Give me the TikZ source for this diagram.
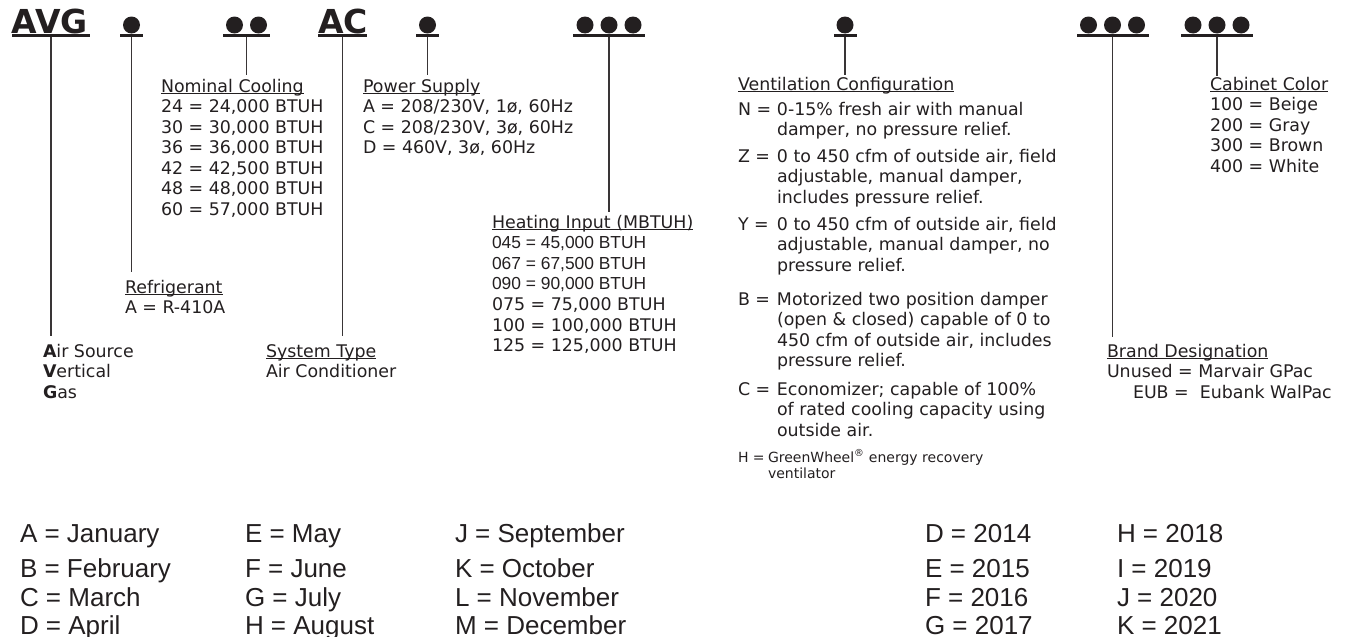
\documentclass[tikz,border=0pt]{standalone}
\usepackage{fontspec}
\setmainfont{DejaVu Sans}
\newfontfamily\arialfont{Liberation Sans}
\usepackage{tikz}
\definecolor{ink}{HTML}{231F20}
\newsavebox\hdbox
\newcommand{\hd}[1]{\sbox\hdbox{#1}\rlap{\rule[-1.7pt]{\wd\hdbox}{1.1pt}}\usebox\hdbox}
\newcommand{\keyrows}[1]{\begin{tabular}[t]{@{}l@{}}#1\end{tabular}}
\newcommand{\ventrows}[3]{\begin{tabular}[t]{@{}p{#1}@{}l@{}}#2&#3\end{tabular}}

\begin{document}
\begin{tikzpicture}[x=1pt,y=-1pt,
	every node/.style={inner sep=0pt,outer sep=0pt,text=ink},
	codebox/.style={anchor=base west,font=\fontsize{33}{33}\selectfont\bfseries},
	codebar/.style={fill=ink,minimum height=2.6pt,minimum width=#1},
	lead/.style={draw=ink!90,line width=1.1pt},
	keytext/.style={anchor=base west,font=\fontsize{17.4}{20.6}\selectfont},
	datetext/.style={anchor=base west,font=\arialfont\fontsize{26}{27.5}\selectfont}]
			\useasboundingbox (0,0) rectangle (1345,637);
			\node[codebox] (avg) at (12,33) {AVG};
			\node[codebar=78pt] (avg-bar) at (51,35.5) {};
			\node[codebar=23pt] (ref-bar) at (131.5,35.5) {};
			\fill[ink] (131.5,25) circle[radius=8.5pt];
			\node[codebar=47pt] (nom-bar) at (246.5,35.5) {};
			\foreach \x in {234.5,258.5} \fill[ink] (\x,25) circle[radius=8.5pt];
			\node[codebox] (ac) at (318,33) {AC};
			\node[codebar=49pt] (ac-bar) at (342.5,35.5) {};
			\node[codebar=23pt] (pwr-bar) at (427.5,35.5) {};
			\fill[ink] (427.5,25) circle[radius=8.5pt];
			\node[codebar=72pt] (heat-bar) at (609,35.5) {};
			\foreach \x in {585,609,633} \fill[ink] (\x,25) circle[radius=8.5pt];
			\node[codebar=23pt] (vent-bar) at (845,35.5) {};
			\fill[ink] (845,25) circle[radius=8.5pt];
			\node[codebar=72pt] (brand-bar) at (1112.5,35.5) {};
			\foreach \x in {1088.5,1112.5,1136.5} \fill[ink] (\x,25) circle[radius=8.5pt];
			\node[codebar=72pt] (cab-bar) at (1217,35.5) {};
			\foreach \x in {1193,1217,1241} \fill[ink] (\x,25) circle[radius=8.5pt];
			\node[keytext] (avg-key) at (43,357) {\keyrows{\textbf{A}ir Source\\\textbf{V}ertical\\\textbf{G}as}};
			\node[keytext] (ref-key) at (125,293) {\keyrows{\hd{Refrigerant}\\A = R-410A}};
			\node[keytext] (nom-key) at (161,92) {\keyrows{\hd{Nominal Cooling}\\24 = 24,000 BTUH\\30 = 30,000 BTUH\\36 = 36,000 BTUH\\42 = 42,500 BTUH\\48 = 48,000 BTUH\\60 = 57,000 BTUH}};
			\node[keytext] (ac-key) at (266,357) {\keyrows{\hd{System Type}\\Air Conditioner}};
			\node[keytext] (pwr-key) at (363,92) {\keyrows{\hd{Power Supply}\\A = 208/230V, 1ø, 60Hz\\C = 208/230V, 3ø, 60Hz\\D = 460V, 3ø, 60Hz}};
			\node[keytext] (heat-key) at (492,228) {\keyrows{\hd{Heating Input (MBTUH)}\\{\arialfont 045 = 45,000 BTUH}\\{\arialfont 067 = 67,500 BTUH}\\{\arialfont 090 = 90,000 BTUH}\\075 = 75,000 BTUH\\100 = 100,000 BTUH\\125 = 125,000 BTUH}};
			\node[keytext] (vent-key) at (738,90) {\hd{Ventilation Configuration}};
			\node[keytext] (vent-n) at (738,115) {\ventrows{39pt}{N =}{0-15\% fresh air with manual\\&damper, no pressure relief.}};
			\node[keytext] (vent-z) at (738,162) {\ventrows{39pt}{Z =}{0 to 450 cfm of outside air, field\\&adjustable, manual damper,\\&includes pressure relief.}};
			\node[keytext] (vent-y) at (738,230) {\ventrows{39pt}{Y =}{0 to 450 cfm of outside air, field\\&adjustable, manual damper, no\\&pressure relief.}};
			\node[keytext] (vent-b) at (738,305) {\ventrows{39pt}{B =}{Motorized two position damper\\&(open \& closed) capable of 0 to\\&450 cfm of outside air, includes\\&pressure relief.}};
			\node[keytext] (vent-c) at (738,395) {\ventrows{39pt}{C =}{Economizer; capable of 100\%\\&of rated cooling capacity using\\&outside air.}};
			\node[keytext,font=\fontsize{14}{16}\selectfont] (vent-h) at (738,462) {\ventrows{30pt}{H =}{GreenWheel\textsuperscript{®} energy recovery\\&ventilator}};
			\node[keytext] (brand-key) at (1107,357) {\keyrows{\hd{Brand Designation}\\Unused = Marvair GPac\\\hspace*{26pt}EUB = \ Eubank WalPac}};
			\node[keytext] (cab-key) at (1210,90) {\keyrows{\hd{Cabinet Color}\\100 = Beige\\200 = Gray\\300 = Brown\\400 = White}};
			\foreach \f/\s in {avg/7,ref/7,nom/3,ac/7,pwr/3,heat/2,vent/2,brand/6,cab/0}
				\draw[lead,shorten >=\s pt] (\f-bar.south) -- (\f-bar.south |- \f-key.north);
			\node[datetext] (month-a) at (20,542.5) {\keyrows{A = January\\[7pt]B = February\\[2pt]C = March\\D = April}};
			\node[datetext] (month-e) at (245,542.5) {\keyrows{E = May\\[7pt]F = June\\[2pt]G = July\\H = August}};
			\node[datetext] (month-j) at (455,542.5) {\keyrows{J = September\\[7pt]K = October\\[2pt]L = November\\M = December}};
			\node[datetext] (year-d) at (925,542.5) {\keyrows{D = 2014\\[7pt]E = 2015\\[2pt]F = 2016\\G = 2017}};
			\node[datetext] (year-h) at (1117,542.5) {\keyrows{H = 2018\\[7pt]I = 2019\\[2pt]J = 2020\\K = 2021}};
		\end{tikzpicture}
\end{document}
